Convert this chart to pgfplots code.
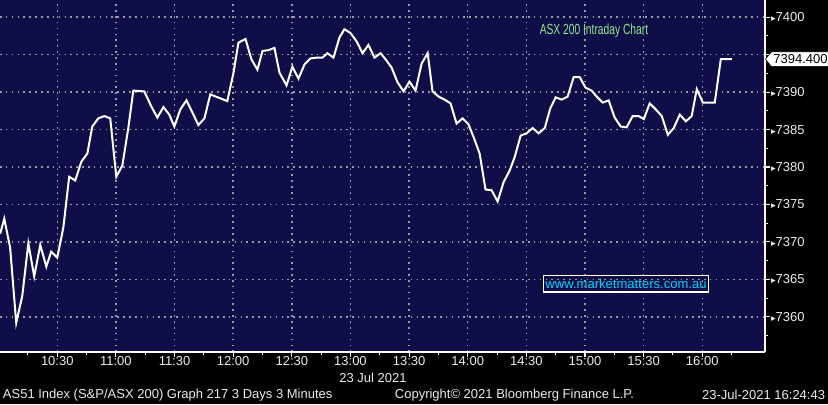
\documentclass[border=0pt]{standalone}
\usepackage{fontspec}
\setmainfont{Liberation Sans}
\newfontfamily\condensed{Liberation Sans}[FakeStretch=0.7]
\newfontfamily\dejavu{DejaVu Sans}
\usepackage{pgfplots}
\pgfplotsset{compat=1.18}
\usetikzlibrary{shapes.symbols}

\definecolor{bgnavy}{RGB}{16,14,72}
\definecolor{gridgray}{RGB}{155,155,155}
\definecolor{titlegreen}{RGB}{140,235,140}
\definecolor{webcyan}{RGB}{0,215,255}
\definecolor{labelgray}{RGB}{235,235,240}
\newcommand\tri{{\dejavu\fontsize{7}{7}\selectfont ▸}}

\begin{document}
\begin{tikzpicture}
\path[use as bounding box, fill=black] (0,-39pt) rectangle (621pt,264pt);
\begin{axis}[
    at={(0,0)}, anchor=south west,
    scale only axis,
    width=573.75pt, height=264pt,
    xmin=0.7, xmax=392.1,
    ymin=7355.3, ymax=7402.3,
    axis background/.style={fill=bgnavy},
    axis x line*=bottom,
    axis y line*=right,
    axis line style={white, line width=1pt},
    tick align=outside,
    major tick length=3.5pt,
    minor tick length=2.5pt,
    tick style={white, line width=0.8pt},
    xtick={30,60,...,360},
    xticklabels={10:30,11:00,11:30,12:00,12:30,13:00,13:30,14:00,14:30,15:00,15:30,16:00},
    minor xtick={15,45,...,375},
    ytick={7360,7365,...,7400},
    yticklabels={\tri7360,\tri7365,\tri7370,\tri7375,\tri7380,\tri7385,\tri7390,,\tri7400},
    minor ytick={7357.5,7362.5,...,7397.5},
    yticklabel style={anchor=west, xshift=-2.5pt},
    xticklabel style={yshift=3.5pt},
    ticklabel style={font=\fontsize{9.75}{11}\selectfont, text=labelgray},
    xmajorgrids, ymajorgrids,
    grid style={gridgray, line width=1.1pt, dash pattern=on 1.2pt off 3.2pt},
    clip mode=individual,
]
\addplot[white, line width=1.5pt] coordinates {
(0.8,7371.1) (2.9,7373.1) (5.9,7369.2) (9.0,7359.2) (12.1,7362.8) (15.2,7369.8)
(18.2,7365.4) (21.3,7369.6) (24.4,7366.7) (26.9,7368.7) (30.0,7367.9) (33.1,7371.9)
(36.1,7378.7) (39.2,7378.2) (42.3,7380.7) (45.4,7381.8) (47.9,7385.4) (51.0,7386.5)
(54.1,7386.8) (57.1,7386.5) (60.2,7378.7) (63.3,7380.2) (66.4,7385.3) (68.9,7390.2)
(74.5,7390.1) (78.1,7388.1) (81.2,7386.6) (84.3,7388.0) (87.3,7387.0) (89.9,7385.4)
(93.0,7387.7) (96.1,7388.9) (99.1,7387.3) (102.2,7385.6) (105.3,7386.5) (108.3,7389.7)
(117.0,7388.8) (120.1,7392.5) (122.7,7396.6) (126.3,7397.1) (129.3,7394.4) (132.4,7393.0)
(135.0,7395.5) (138.0,7395.6) (141.1,7395.9) (143.7,7392.6) (147.3,7390.9) (150.3,7393.4)
(153.4,7391.8) (156.5,7393.7) (159.5,7394.5) (162.6,7394.6) (165.7,7394.6) (168.2,7395.2)
(171.3,7394.6) (174.4,7397.3) (176.9,7398.4) (180.0,7397.9) (183.1,7396.8) (186.2,7395.2)
(189.2,7396.3) (192.3,7394.6) (195.4,7395.2) (198.5,7394.2) (201.0,7393.3) (204.1,7391.3)
(207.2,7390.1) (210.2,7391.4) (213.3,7390.2) (216.4,7393.8) (219.5,7395.2) (222.0,7390.1)
(225.1,7389.4) (228.2,7389.0) (231.2,7388.5) (234.3,7385.8) (237.4,7386.5) (240.4,7385.7)
(243.0,7384.0) (246.1,7381.8) (249.1,7377.0) (252.2,7376.9) (255.3,7375.4) (258.4,7378.0)
(261.4,7379.5) (264.0,7381.3) (267.1,7384.2) (270.1,7384.5) (273.2,7385.2) (276.3,7384.5)
(279.4,7385.2) (282.2,7387.8) (285.0,7389.3) (288.1,7389.0) (291.1,7389.4) (294.2,7392.0)
(297.3,7392.0) (300.3,7390.6) (303.4,7390.2) (306.0,7389.4) (309.1,7388.6) (312.1,7388.9)
(315.2,7386.6) (318.3,7385.4) (321.3,7385.3) (324.4,7386.8) (327.5,7386.8) (330.1,7386.4)
(333.1,7388.5) (336.2,7387.7) (339.3,7386.8) (342.4,7384.3) (345.4,7385.2) (348.5,7387.0)
(351.6,7386.1) (354.6,7386.8) (357.2,7390.4) (360.3,7388.6) (366.4,7388.6) (369.5,7394.4)
(375.1,7394.4)
};
\node[text=titlegreen, font=\condensed\fontsize{11}{12}\selectfont] at (axis cs:304.6,7398.2) {ASX 200 Intraday Chart};
\node[draw=white, line width=0.8pt, text=webcyan, inner xsep=1.5pt, inner ysep=2.5pt,
      font=\fontsize{9.8}{11}\selectfont] at (axis cs:321.0,7364.4) {www.marketmatters.com.au};
\node[signal, signal to=west, signal pointer angle=100, fill=white, draw=black,
      text=black, inner xsep=1.5pt, inner ysep=2pt, anchor=west,
      font=\fontsize{9.75}{11}\selectfont] at (axis cs:392.1,7394.4) {7394.400};
\end{axis}
\node[text=labelgray, font=\fontsize{9.75}{11}\selectfont] at (279.75pt,-19.5pt) {23 Jul 2021};
\node[text=labelgray, anchor=west, inner sep=0pt, font=\fontsize{9.75}{11}\selectfont] at (2pt,-32.25pt) {AS51 Index (S\&P/ASX 200) Graph 217 3 Days 3 Minutes};
\node[text=labelgray, anchor=west, inner sep=0pt, font=\fontsize{9.75}{11}\selectfont] at (296pt,-32.25pt) {Copyright© 2021 Bloomberg Finance L.P.};
\node[text=labelgray, anchor=east, inner sep=0pt, font=\fontsize{9.75}{11}\selectfont] at (619pt,-32.25pt) {23-Jul-2021 16:24:43};
\end{tikzpicture}
\end{document}
